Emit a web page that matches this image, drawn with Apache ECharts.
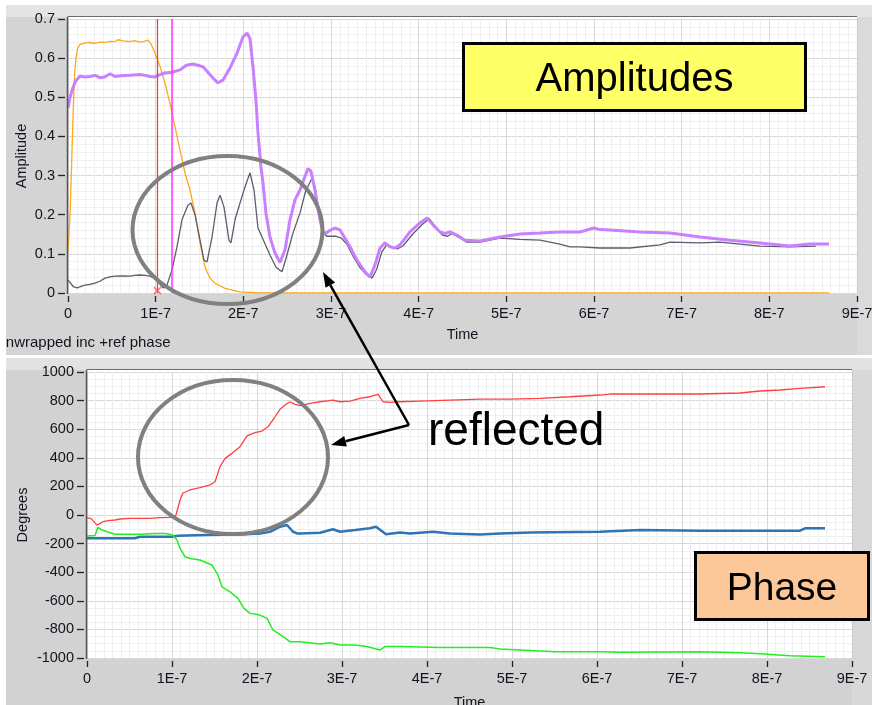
<!DOCTYPE html>
<html>
<head>
<meta charset="utf-8">
<script src="https://cdn.jsdelivr.net/npm/echarts@6/dist/echarts.min.js"></script>
<style>
html,body{margin:0;padding:0;background:#fff;}
#chart{width:872px;height:705px;}
</style>
</head>
<body>
<div id="chart"></div>
<script>
// Time values are in nanoseconds; axis labels show them in units of 1E-7 s.
const timeTicks = [0, 100, 200, 300, 400, 500, 600, 700, 800, 900];

// Amplitude traces: [time (ns), amplitude]
const incAmplitude = [[0,0.105],[2.3,0.2],[4,0.32],[5.7,0.45],[7.5,0.56],[9.1,0.6],[11,0.625],[13.7,0.635],[18,0.638],[22.8,0.64],[30,0.638],[36.5,0.641],[42,0.64],[48,0.643],[53,0.642],[57,0.647],[63,0.644],[70.7,0.642],[76,0.645],[82,0.641],[87,0.643],[91.3,0.646],[95,0.635],[99.2,0.613],[104.9,0.58],[110.6,0.536],[116.3,0.485],[122,0.425],[127.8,0.365],[133.5,0.306],[139.2,0.263],[144.9,0.204],[150.6,0.128],[156.3,0.066],[162,0.038],[167.7,0.025],[179,0.012],[196,0.003],[219,0],[868,0]];

const sumAmplitude = [[0,0.473],[2.3,0.5],[5.7,0.525],[9.1,0.543],[13.7,0.554],[19.4,0.552],[25,0.553],[30.8,0.556],[36.5,0.55],[42,0.552],[48,0.56],[53.6,0.553],[60,0.555],[70.7,0.556],[82,0.558],[88,0.556],[93.5,0.553],[99.2,0.552],[102.7,0.556],[110,0.562],[118.6,0.564],[127.8,0.57],[135,0.582],[142.6,0.585],[154,0.578],[165.4,0.549],[171.1,0.537],[176.8,0.544],[184.8,0.575],[192.8,0.613],[199.6,0.654],[204.2,0.664],[207.6,0.65],[211,0.578],[214.4,0.493],[216.7,0.409],[220.1,0.322],[222.4,0.281],[225.8,0.204],[230.4,0.143],[236.1,0.102],[241.8,0.078],[247.5,0.11],[253.2,0.187],[258.9,0.238],[264.6,0.263],[269,0.29],[273.8,0.318],[277,0.312],[281.7,0.263],[287.4,0.187],[290.9,0.156],[294.3,0.153],[299,0.16],[304.5,0.166],[310.3,0.161],[316,0.14],[321.7,0.118],[329.6,0.084],[338.8,0.054],[344.5,0.041],[350.2,0.072],[355.9,0.115],[361.6,0.128],[367.3,0.118],[373,0.115],[378.7,0.123],[390.1,0.156],[401.5,0.179],[409.5,0.192],[416.3,0.174],[424.3,0.156],[430,0.152],[435.7,0.156],[443.7,0.148],[452.8,0.135],[469.9,0.133],[492.8,0.143],[515.6,0.151],[538.4,0.153],[561.2,0.156],[584,0.156],[600,0.166],[606.8,0.162],[618.2,0.161],[652.5,0.156],[686.7,0.153],[720.9,0.143],[755.1,0.135],[789.3,0.128],[823.5,0.12],[846.4,0.125],[868,0.125]];

const refAmplitude = [[0,0.033],[3,0.025],[6,0.016],[10.3,0.013],[14,0.016],[19.4,0.02],[25,0.022],[30.8,0.025],[36.5,0.03],[42.2,0.038],[48,0.041],[53.6,0.043],[62,0.044],[70.7,0.043],[76,0.045],[82.1,0.046],[88,0.045],[93.5,0.043],[99,0.037],[102.7,0.028],[108.4,0.013],[112.9,0.02],[118.6,0.059],[124.3,0.118],[130,0.187],[136.9,0.225],[140.3,0.23],[144.9,0.2],[150.6,0.135],[155.1,0.084],[158.5,0.079],[164.3,0.143],[170,0.23],[173.4,0.25],[177.9,0.22],[183.6,0.135],[185.9,0.128],[190.5,0.187],[196.2,0.23],[201.9,0.271],[207.6,0.307],[212.2,0.263],[216.7,0.166],[221.3,0.143],[230.4,0.097],[237.3,0.066],[244.1,0.054],[249.8,0.097],[256.6,0.153],[264.6,0.204],[271,0.26],[278.3,0.293],[282,0.27],[285.2,0.22],[290.9,0.156],[295,0.145],[305,0.145],[312,0.14],[318,0.125],[325,0.095],[333,0.065],[340,0.048],[346.8,0.038],[352,0.06],[358,0.105],[364,0.124],[370,0.116],[376,0.113],[382,0.12],[393,0.15],[404,0.175],[412,0.19],[419,0.17],[427,0.148],[433,0.145],[438,0.152],[446,0.142],[455,0.13],[470,0.13],[492.8,0.14],[515.6,0.137],[538.4,0.135],[561,0.125],[572.6,0.118],[584,0.118],[606.8,0.115],[641,0.115],[675.3,0.123],[686.7,0.13],[720.9,0.128],[743.7,0.13],[766.5,0.125],[789.3,0.12],[823.5,0.118],[853,0.12]];

// Cursor positions (ns)
const cursorA = 102;
const cursorB = 118;
const cursorMark = [[102, 0.006]];

// Unwrapped phase traces: [time (ns), degrees]
const refPhase = [[0,-19],[5,-25],[9.4,-55],[11.8,-70],[15,-60],[18.8,-47],[25,-40],[32.9,-35],[38.8,-28],[50.6,-24],[62,-24],[74.1,-24],[85.9,-19],[100,-17],[104.7,0],[109.4,105],[112.9,154],[121.2,175],[132.9,191],[144.7,210],[150.6,233],[156.5,338],[162.4,396],[170.6,431],[180,478],[188.2,553],[197.6,576],[205.9,587],[212.9,617],[221.2,687],[227.1,739],[232.9,769],[238.8,792],[244.7,774],[250.6,765],[262.4,781],[274.1,792],[289.4,804],[297.6,792],[309.4,796],[321.2,816],[332.9,827],[342.4,844],[348.2,792],[356.5,788],[368.2,792],[391.8,797],[427.1,804],[462.4,811],[497.6,811],[532.9,816],[568.2,827],[603.5,839],[615.3,846],[650.6,846],[721.2,846],[768.2,853],[791.8,867],[815.3,874],[838.8,886],[868.2,897]];

const incPhase = [[0,-163],[20,-163],[40,-163],[56.5,-163],[62.4,-152],[85,-152],[100,-152],[107.1,-145],[138.8,-140],[180,-136],[203.5,-129],[215.3,-118],[227.1,-82],[235.3,-70],[242.4,-117],[247.1,-129],[250.6,-129],[274.1,-124],[289.4,-100],[297.6,-117],[315.3,-105],[332.9,-93],[340,-82],[351.8,-134],[368.2,-122],[380,-129],[407.1,-117],[427.1,-129],[462.4,-136],[485.9,-129],[521.2,-122],[603.5,-117],[650.6,-105],[721.2,-110],[838.8,-110],[844.7,-93],[868.2,-93]];

const diffPhase = [[0,-147],[9.4,-143],[12.9,-86],[17.6,-105],[32.9,-134],[62.4,-134],[80,-129],[91.8,-129],[100,-138],[105.9,-175],[109.4,-233],[115.3,-292],[121.2,-304],[132.9,-315],[147.1,-350],[154.1,-420],[158.8,-502],[168.2,-537],[177.6,-583],[184.7,-653],[191.8,-688],[203.5,-700],[211.8,-723],[218.8,-804],[229.4,-846],[238.8,-886],[247.1,-886],[250.6,-886],[274.1,-902],[285.9,-893],[297.6,-909],[315.3,-909],[329.4,-920],[344.7,-944],[350.6,-920],[368.2,-920],[415.3,-927],[474.1,-927],[485.9,-937],[550.6,-956],[603.5,-956],[627.1,-960],[721.2,-956],[768.2,-963],[791.8,-970],[827,-984],[868.2,-991]];

const FONT = "'Liberation Sans', Arial, sans-serif";
const TXT = '#141420';

function timeLabel(v) {
  return v === 0 ? '0' : (v / 100) + 'E-7';
}

function plainLabel(v) {
  return String(Math.round(v * 1000) / 1000);
}

function xAxisFor(gridIndex, nameGap) {
  return {
    type: 'value', gridIndex: gridIndex, min: timeTicks[0], max: timeTicks[timeTicks.length - 1], interval: 100,
    offset: 3,
    axisLine: { show: false, onZero: false },
    axisTick: { show: true, length: 6, lineStyle: { color: '#222', width: 1.3 } },
    axisLabel: { margin: 10, fontSize: 14.5, color: TXT, fontFamily: FONT, formatter: timeLabel },
    splitLine: { show: true, lineStyle: { color: '#d8d8d8', width: 1 } },
    minorTick: { show: false, splitNumber: 10 },
    minorSplitLine: { show: true, lineStyle: { color: '#efefef', width: 1 } },
    name: 'Time', nameLocation: 'middle', nameGap: nameGap, nameMoveOverlap: false,
    nameTextStyle: { fontSize: 14.5, color: TXT, fontFamily: FONT }
  };
}

function yAxisFor(gridIndex, min, max, interval, minorSplit, name, nameGap) {
  return {
    type: 'value', gridIndex: gridIndex, min: min, max: max, interval: interval,
    offset: 3,
    axisLine: { show: false, onZero: false },
    axisTick: { show: true, length: 7, lineStyle: { color: '#222', width: 1.3 } },
    axisLabel: { margin: 10, fontSize: 14.5, color: TXT, fontFamily: FONT, formatter: plainLabel },
    splitLine: { show: true, lineStyle: { color: '#d8d8d8', width: 1 } },
    minorTick: { show: false, splitNumber: minorSplit },
    minorSplitLine: { show: true, lineStyle: { color: '#efefef', width: 1 } },
    name: name, nameLocation: 'middle', nameGap: nameGap, nameRotate: 90, nameMoveOverlap: false,
    nameTextStyle: { fontSize: 14.5, color: TXT, fontFamily: FONT }
  };
}

function arrowHead(tip, from, len, half) {
  const dx = tip[0] - from[0], dy = tip[1] - from[1];
  const d = Math.sqrt(dx * dx + dy * dy);
  const ux = dx / d, uy = dy / d;
  const bx = tip[0] - ux * len, by = tip[1] - uy * len;
  return {
    base: [bx, by],
    points: [tip, [bx - uy * half, by + ux * half], [bx + uy * half, by - ux * half]]
  };
}

const arrowStart = [409, 425];
const arrowUp = arrowHead([323, 272], arrowStart, 15, 5.5);
const arrowLeft = arrowHead([331, 445], arrowStart, 15, 5.5);

const chart = echarts.init(document.getElementById('chart'), null, { renderer: 'canvas' });

chart.setOption({
  animation: false,
  backgroundColor: '#ffffff',
  grid: [
    { left: 68, top: 19, width: 789, height: 274, show: false, outerBoundsMode: 'none' },
    { left: 87, top: 372, width: 765, height: 286, show: false, outerBoundsMode: 'none' }
  ],
  xAxis: [xAxisFor(0, 31), xAxisFor(1, 34)],
  yAxis: [
    yAxisFor(0, 0, 0.7, 0.1, 5, 'Amplitude', 36),
    yAxisFor(1, -1000, 1000, 200, 4, 'Degrees', 54)
  ],
  series: [
    {
      type: 'line', xAxisIndex: 0, yAxisIndex: 0, data: incAmplitude, showSymbol: false,
      lineStyle: { color: '#ffa81c', width: 1.3 }, z: 3
    },
    {
      type: 'line', xAxisIndex: 0, yAxisIndex: 0, data: refAmplitude, showSymbol: false,
      lineStyle: { color: '#5c5c6e', width: 1.3 }, z: 3
    },
    {
      type: 'line', xAxisIndex: 0, yAxisIndex: 0, data: sumAmplitude, showSymbol: false,
      lineStyle: { color: '#c880ff', width: 3 }, z: 4,
      markLine: {
        silent: true, symbol: 'none', animation: false,
        label: { show: false },
        data: [
          { xAxis: cursorA, lineStyle: { color: '#ff3030', width: 1.2, type: 'solid' } },
          { xAxis: cursorB, lineStyle: { color: '#ff30ff', width: 1.5, type: 'solid' } }
        ]
      }
    },
    {
      type: 'scatter', xAxisIndex: 0, yAxisIndex: 0, data: cursorMark,
      symbol: 'path://M0,0L10,10M10,0L0,10', symbolSize: 7,
      itemStyle: { color: 'none', borderColor: '#ff5a5a', borderWidth: 1.5 }, z: 6
    },
    {
      type: 'line', xAxisIndex: 1, yAxisIndex: 1, data: refPhase, showSymbol: false,
      lineStyle: { color: '#ff4040', width: 1.3 }, z: 3
    },
    {
      type: 'line', xAxisIndex: 1, yAxisIndex: 1, data: incPhase, showSymbol: false,
      lineStyle: { color: '#2f74b5', width: 2.5 }, z: 3
    },
    {
      type: 'line', xAxisIndex: 1, yAxisIndex: 1, data: diffPhase, showSymbol: false,
      lineStyle: { color: '#22ee22', width: 1.5 }, z: 3
    }
  ],
  graphic: {
    elements: [
      // panels
      { type: 'rect', z: -5, silent: true, shape: { x: 6, y: 5, width: 866, height: 350 }, style: { fill: '#d4d4d4' } },
      { type: 'rect', z: -4, silent: true, shape: { x: 6, y: 5, width: 866, height: 12 }, style: { fill: '#e4e4e4' } },
      { type: 'rect', z: -4, silent: true, shape: { x: 857, y: 17, width: 15, height: 338 }, style: { fill: '#dadada' } },
      { type: 'rect', z: -5, silent: true, shape: { x: 6, y: 358, width: 866, height: 347 }, style: { fill: '#d2d2d2' } },
      { type: 'rect', z: -4, silent: true, shape: { x: 6, y: 358, width: 866, height: 12 }, style: { fill: '#e2e2e2' } },
      { type: 'rect', z: -4, silent: true, shape: { x: 852, y: 370, width: 20, height: 335 }, style: { fill: '#d8d8d8' } },
      // plot areas
      { type: 'rect', z: -3, silent: true, shape: { x: 68, y: 17, width: 789, height: 276 }, style: { fill: '#ffffff' } },
      { type: 'rect', z: -3, silent: true, shape: { x: 87, y: 370, width: 765, height: 288 }, style: { fill: '#ffffff' } },
      { type: 'line', z: 10, silent: true, shape: { x1: 67.5, y1: 17, x2: 67.5, y2: 294 }, style: { stroke: '#555', lineWidth: 1.5 } },
      { type: 'line', z: 10, silent: true, shape: { x1: 67.5, y1: 16.5, x2: 857, y2: 16.5 }, style: { stroke: '#6a6a6a', lineWidth: 1 } },
      { type: 'line', z: 10, silent: true, shape: { x1: 857.5, y1: 17, x2: 857.5, y2: 293 }, style: { stroke: '#c8c8c8', lineWidth: 1 } },
      { type: 'line', z: 10, silent: true, shape: { x1: 86.5, y1: 370, x2: 86.5, y2: 659 }, style: { stroke: '#555', lineWidth: 1.5 } },
      { type: 'line', z: 10, silent: true, shape: { x1: 86.5, y1: 369.5, x2: 852, y2: 369.5 }, style: { stroke: '#6a6a6a', lineWidth: 1 } },
      { type: 'line', z: 10, silent: true, shape: { x1: 852.5, y1: 370, x2: 852.5, y2: 658 }, style: { stroke: '#c8c8c8', lineWidth: 1 } },
      // lower graph caption, clipped at the panel edge
      { type: 'text', z: 10, silent: true, x: -5, y: 343,
        style: { text: 'Unwrapped inc +ref phase', fontSize: 15, fontFamily: FONT, fill: TXT, textVerticalAlign: 'middle', verticalAlign: 'middle' } },
      { type: 'rect', z: 11, silent: true, shape: { x: 0, y: 330, width: 6, height: 28 }, style: { fill: '#ffffff' } },
      // highlighted regions
      { type: 'ellipse', z: 50, silent: true, shape: { cx: 227.5, cy: 230, rx: 95, ry: 74 }, style: { fill: 'none', stroke: '#808080', lineWidth: 4 } },
      { type: 'ellipse', z: 50, silent: true, shape: { cx: 233, cy: 457, rx: 95, ry: 77 }, style: { fill: 'none', stroke: '#808080', lineWidth: 4 } },
      // arrows
      { type: 'line', z: 51, silent: true, shape: { x1: arrowStart[0], y1: arrowStart[1], x2: arrowUp.base[0], y2: arrowUp.base[1] }, style: { stroke: '#000', lineWidth: 2.5 } },
      { type: 'polygon', z: 51, silent: true, shape: { points: arrowUp.points }, style: { fill: '#000' } },
      { type: 'line', z: 51, silent: true, shape: { x1: arrowStart[0], y1: arrowStart[1], x2: arrowLeft.base[0], y2: arrowLeft.base[1] }, style: { stroke: '#000', lineWidth: 2.5 } },
      { type: 'polygon', z: 51, silent: true, shape: { points: arrowLeft.points }, style: { fill: '#000' } },
      { type: 'text', z: 51, silent: true, x: 428, y: 432,
        style: { text: 'reflected', fontSize: 46, fontFamily: FONT, fill: '#000', verticalAlign: 'middle', textVerticalAlign: 'middle' } },
      // title boxes
      { type: 'rect', z: 52, silent: true, shape: { x: 463.5, y: 43.5, width: 342, height: 67 }, style: { fill: '#ffff66', stroke: '#000', lineWidth: 3 } },
      { type: 'text', z: 53, silent: true, x: 634.5, y: 80,
        style: { text: 'Amplitudes', fontSize: 40, fontFamily: FONT, fill: '#000', align: 'center', textAlign: 'center', verticalAlign: 'middle', textVerticalAlign: 'middle' } },
      { type: 'rect', z: 52, silent: true, shape: { x: 695.5, y: 552.5, width: 173, height: 67 }, style: { fill: '#fcc799', stroke: '#000', lineWidth: 3 } },
      { type: 'text', z: 53, silent: true, x: 782, y: 589,
        style: { text: 'Phase', fontSize: 39, fontFamily: FONT, fill: '#000', align: 'center', textAlign: 'center', verticalAlign: 'middle', textVerticalAlign: 'middle' } }
    ]
  }
});
</script>
</body>
</html>
